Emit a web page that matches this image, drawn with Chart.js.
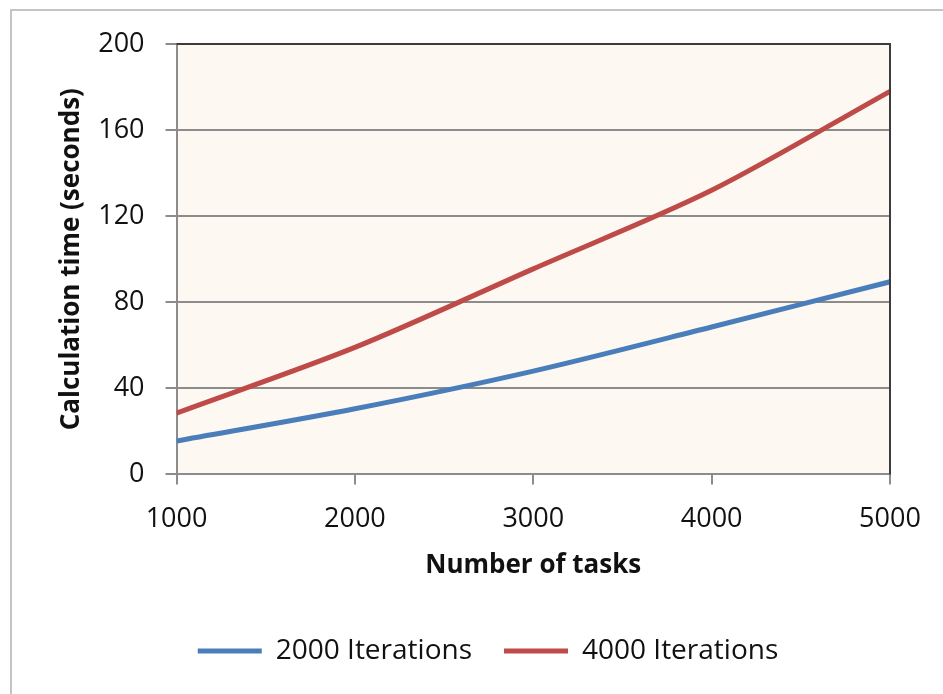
<!DOCTYPE html>
<html>
<head>
<meta charset="utf-8">
<script src="https://cdn.jsdelivr.net/npm/chart.js@4.4.1/dist/chart.umd.min.js"></script>
<style>
  html, body { margin: 0; padding: 0; background: #fff; }
  #wrap { position: relative; width: 943px; height: 694px; overflow: hidden; }
  #frame { position: absolute; left: 10px; top: 9px; width: 960px; height: 720px; border: 2px solid #c4c4c4; }
  canvas { position: absolute; left: 0; top: 0; }
</style>
</head>
<body>
<div id="wrap">
  <div id="frame"></div>
  <canvas id="grafico" width="943" height="694"></canvas>
</div>
<script>
const tarefas = [1000, 2000, 3000, 4000, 5000];
const iter2000 = [15.5, 30.5, 48, 68.5, 89.5];
const iter4000 = [28.5, 59, 95.5, 132, 178];
const yTicks = [0, 40, 80, 120, 160, 200];

const fonte = "'Open Sans', sans-serif";
const ctx = document.getElementById('grafico');

// fundo da area do grafico + moldura escura em cima e na direita
const fundo = {
  id: 'fundo',
  afterLayout(chart) {
    // legenda um pouco mais para a direita, como no original
    chart.legend.left += 15;
    chart.legend.right += 15;
  },
  beforeDraw(chart) {
    const a = chart.chartArea;
    const c = chart.ctx;
    c.save();
    c.fillStyle = '#fef8f2';
    c.fillRect(a.left, a.top, a.right - a.left, a.bottom - a.top);
    c.restore();
  },
  afterDatasetsDraw(chart) {
    const a = chart.chartArea;
    const c = chart.ctx;
    c.save();
    c.strokeStyle = '#3c3c3c';
    c.lineWidth = 2;
    c.beginPath();
    c.moveTo(a.left, a.top);
    c.lineTo(a.right, a.top);
    c.lineTo(a.right, a.bottom);
    c.stroke();
    c.restore();
  }
};

const chart = new Chart(ctx, {
  type: 'line',
  data: {
    datasets: [{
      label: '2000 Iterations',
      data: tarefas.map((t, i) => ({ x: t, y: iter2000[i] })),
      borderColor: '#4a7ebb',
      backgroundColor: '#4a7ebb',
      borderWidth: 5,
      pointRadius: 0,
      tension: 0.3,
      fill: false
    }, {
      label: '4000 Iterations',
      data: tarefas.map((t, i) => ({ x: t, y: iter4000[i] })),
      borderColor: '#be4b48',
      backgroundColor: '#be4b48',
      borderWidth: 5,
      pointRadius: 0,
      tension: 0.3,
      fill: false
    }]
  },
  options: {
    responsive: false,
    animation: false,
    layout: { padding: { left: 56, top: 44, right: 53, bottom: 19 } },
    plugins: {
      tooltip: { enabled: false },
      legend: {
        position: 'bottom',
        labels: {
          usePointStyle: true,
          pointStyle: 'line',
          pointStyleWidth: 64,
          boxHeight: 5,
          color: '#111',
          font: { family: fonte, size: 28 },
          padding: 32
        }
      }
    },
    scales: {
      x: {
        type: 'linear',
        min: 1000,
        max: 5000,
        ticks: { stepSize: 1000, color: '#111', font: { family: fonte, size: 27 }, padding: 19, callback: v => String(v) },
        grid: { drawOnChartArea: false, drawTicks: true, tickLength: 10, color: '#8c8c8c', lineWidth: 2 },
        border: { color: '#8c8c8c', width: 2 },
        title: { display: true, text: 'Number of tasks', color: '#111', font: { family: fonte, size: 26, weight: 'bold' }, padding: { top: -5, bottom: 24 } }
      },
      y: {
        min: 0,
        max: 200,
        afterBuildTicks: axis => { axis.ticks = yTicks.map(v => ({ value: v })); },
        ticks: { color: '#111', font: { family: fonte, size: 27 }, padding: 21 },
        grid: { color: '#8c8c8c', lineWidth: 2, tickLength: 11 },
        border: { color: '#8c8c8c', width: 2 },
        title: { display: true, text: 'Calculation time (seconds)', color: '#111', font: { family: fonte, size: 26, weight: 'bold' }, padding: { top: 0, bottom: -10 } }
      }
    }
  },
  plugins: [fundo]
});
</script>
</body>
</html>
